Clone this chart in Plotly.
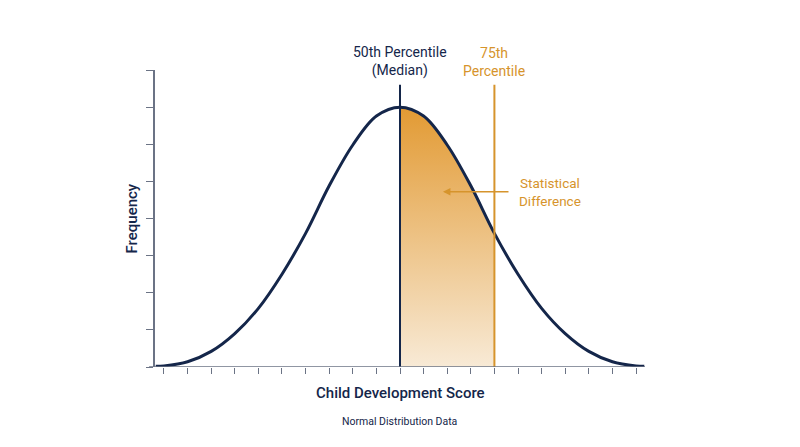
import plotly.graph_objects as go

# score offsets from the median (one tick per unit)
scores = [-10.35, -10, -9, -8, -7, -6, -5, -4, -3, -2, -1, 0,
          1, 2, 3, 4, 5, 6, 7, 8, 9, 10, 10.35]
# curve height (axis units, peak = 7)
frequency = [0.02, 0.03, 0.14, 0.42, 0.90, 1.58, 2.50, 3.60, 4.88, 5.98, 6.76, 7.0,
             6.76, 5.98, 4.88, 3.60, 2.50, 1.58, 0.90, 0.42, 0.14, 0.03, 0.02]
x_ticks = list(range(-10, 11))
y_ticks = list(range(0, 9))

median_score = 0
p75_score = 4

NAVY = "#14264A"
ORANGE = "#D6942C"
AXIS = "#6B7385"
FONT = "Roboto"

shade_x = [s for s in scores if median_score <= s <= p75_score]
shade_y = [f for s, f in zip(scores, frequency) if median_score <= s <= p75_score]

fig = go.Figure()

fig.add_trace(go.Scatter(
    x=shade_x,
    y=shade_y,
    mode="lines",
    line=dict(width=0, shape="spline"),
    fill="tozeroy",
    fillgradient=dict(
        type="vertical",
        colorscale=[[0, "#F8EAD6"], [1, "#E29A33"]],
    ),
    hoverinfo="skip",
    showlegend=False,
))

fig.add_trace(go.Scatter(
    x=scores,
    y=frequency,
    mode="lines",
    line=dict(color=NAVY, width=3, shape="spline"),
    showlegend=False,
))

fig.add_trace(go.Scatter(
    x=[median_score, median_score],
    y=[0, 7.6],
    mode="lines",
    line=dict(color=NAVY, width=2),
    showlegend=False,
))

fig.add_trace(go.Scatter(
    x=[p75_score, p75_score],
    y=[0, 7.6],
    mode="lines",
    line=dict(color=ORANGE, width=2),
    showlegend=False,
))

# x axis line runs a little past the y axis
fig.add_shape(
    type="line", xref="paper", yref="y",
    x0=-0.012, x1=1, y0=0, y1=0,
    line=dict(color=AXIS, width=1.5),
)

fig.add_annotation(
    x=median_score, y=1.028, xref="x", yref="paper",
    text="50th Percentile<br>(Median)", showarrow=False,
    font=dict(family=FONT, size=14, color=NAVY),
    xanchor="center", yanchor="middle",
)
fig.add_annotation(
    x=p75_score, y=1.028, xref="x", yref="paper",
    text="75th<br>Percentile", showarrow=False,
    font=dict(family=FONT, size=14, color=ORANGE),
    xanchor="center", yanchor="middle",
)
fig.add_annotation(
    x=6.35, y=4.72, xref="x", yref="y",
    text="Statistical<br>Difference", showarrow=False,
    font=dict(family=FONT, size=13.5, color=ORANGE),
    xanchor="center", yanchor="middle",
)
fig.add_annotation(
    x=1.82, y=4.72, ax=4.66, ay=4.72,
    xref="x", yref="y", axref="x", ayref="y",
    text="", showarrow=True,
    arrowhead=2, arrowsize=1, arrowwidth=1.5, arrowcolor=ORANGE,
)
fig.add_annotation(
    x=-0.047, y=0.5, xref="paper", yref="paper",
    text="Frequency", showarrow=False, textangle=-90,
    font=dict(family=FONT, size=15, color=NAVY, weight=500),
    xanchor="center", yanchor="middle",
)
fig.add_annotation(
    x=0.5, y=-0.088, xref="paper", yref="paper",
    text="Child Development Score", showarrow=False,
    font=dict(family=FONT, size=15, color=NAVY, weight=500),
    xanchor="center", yanchor="middle",
)
fig.add_annotation(
    x=0.5, y=-0.182, xref="paper", yref="paper",
    text="Normal Distribution Data", showarrow=False,
    font=dict(family=FONT, size=10.5, color=NAVY),
    xanchor="center", yanchor="middle",
)

fig.update_xaxes(
    range=[-10.38, 10.38],
    tickvals=x_ticks,
    showticklabels=False,
    ticks="outside", ticklen=6, tickwidth=1.2, tickcolor=AXIS,
    showgrid=False, zeroline=False, showline=False,
)
fig.update_yaxes(
    range=[0, 8],
    tickvals=y_ticks,
    showticklabels=False,
    ticks="outside", ticklen=7, tickwidth=1.2, tickcolor=AXIS,
    showgrid=False, zeroline=False,
    showline=True, linecolor=AXIS, linewidth=1.5,
)

# the page body adds 8px around the figure
fig.update_layout(
    width=792,
    height=439,
    margin=dict(l=147, r=155, t=62, b=80),
    plot_bgcolor="white",
    paper_bgcolor="white",
    font=dict(family=FONT),
)

fig.write_html("out.html")
